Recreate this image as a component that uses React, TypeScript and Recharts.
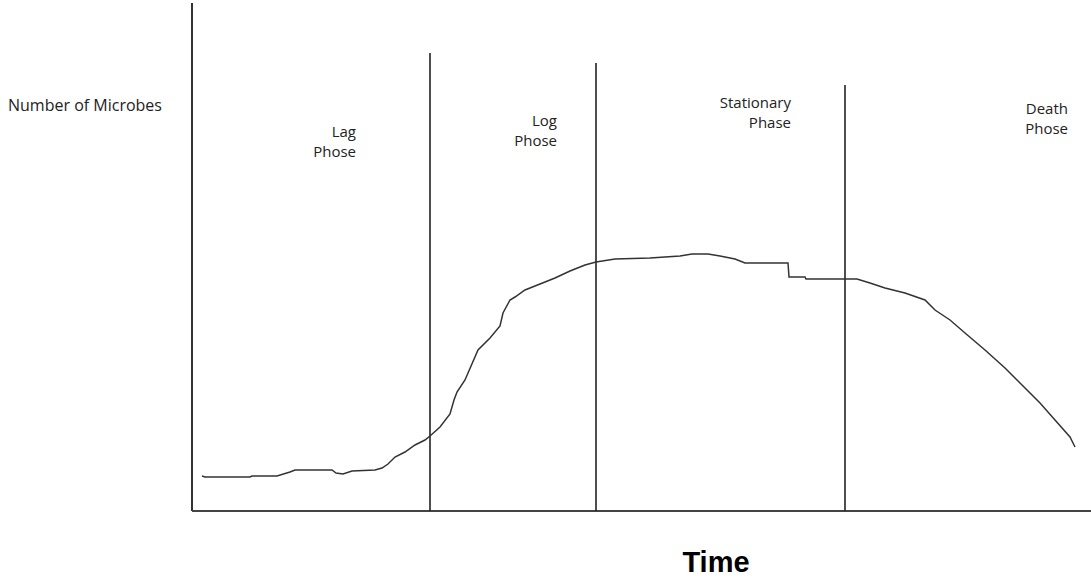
import { LineChart, Line, XAxis, YAxis, ReferenceLine } from 'recharts'

// time (arbitrary units) and number of microbes (arbitrary units)
const time = [
  10, 13, 58, 60, 85, 98, 103, 140, 144, 151, 160, 183, 190, 196, 203, 213, 223, 233, 238, 248,
  258, 262, 265, 273, 286, 298, 308, 311, 318, 323, 333, 348, 363, 378, 393, 404, 423, 458, 488,
  500, 516, 528, 543, 553, 596, 597, 613, 614, 665, 678, 693, 713, 733, 743, 758, 773, 793, 813,
  828, 848, 863, 878, 883,
]
const microbes = [
  35, 34, 34, 35, 35, 39, 41, 41, 38, 37, 40, 41, 43, 47, 54, 59, 66, 71, 75, 84,
  97, 111, 119, 131, 161, 173, 185, 198, 211, 214, 221, 227, 233, 240, 246, 249, 252, 253, 255,
  257, 257, 255, 252, 248, 248, 234, 234, 232, 232, 228, 223, 218, 211, 201, 191, 178, 161, 143,
  128, 108, 91, 74, 64,
]

// phase boundaries: where each divider stands and how tall it was drawn
const phaseEnds = [238, 404, 653]
const phaseTops = [458, 448, 426]

const data = time.map((t, i) => ({ t, n: microbes[i] }))

const labelStyle = {
  position: 'absolute' as const,
  fontFamily: '"Open Sans", sans-serif',
  fontSize: 15,
  lineHeight: '20px',
  color: '#222',
  textAlign: 'right' as const,
  whiteSpace: 'nowrap' as const,
}

export default function App() {
  return (
    <div style={{ position: 'absolute', left: 0, top: 0, width: 1091, height: 579, background: '#fff' }}>
      <LineChart width={1091} height={579} data={data} margin={{ top: 3, right: 0, bottom: 68, left: 192 }}>
        <XAxis type="number" dataKey="t" domain={[0, 899]} hide />
        <YAxis type="number" domain={[0, 508]} hide />
        <ReferenceLine x={0} stroke="#333" strokeWidth={2} ifOverflow="visible" />
        <ReferenceLine y={0} stroke="#444" strokeWidth={2} ifOverflow="visible" />
        {phaseEnds.map((x, i) => (
          <ReferenceLine
            key={x}
            segment={[{ x, y: 0 }, { x, y: phaseTops[i] }]}
            stroke="#222"
            strokeWidth={1.6}
            ifOverflow="visible"
          />
        ))}
        <Line
          type="linear"
          dataKey="n"
          stroke="#333"
          strokeWidth={1.5}
          dot={false}
          isAnimationActive={false}
        />
      </LineChart>

      <div style={{ ...labelStyle, left: 8, top: 95, fontSize: 16, textAlign: 'left' }}>Number of Microbes</div>
      <div style={{ ...labelStyle, right: 1091 - 356, top: 121 }}>Lag<br />Phose</div>
      <div style={{ ...labelStyle, right: 1091 - 557, top: 110 }}>Log<br />Phose</div>
      <div style={{ ...labelStyle, right: 1091 - 791, top: 92 }}>Stationary<br />Phase</div>
      <div style={{ ...labelStyle, right: 1091 - 1068, top: 98 }}>Death<br />Phose</div>
      <div
        style={{
          position: 'absolute',
          left: 0,
          width: 1432,
          top: 546,
          textAlign: 'center',
          fontFamily: '"Liberation Sans", Arial, sans-serif',
          fontWeight: 'bold',
          fontSize: 29,
          color: '#000',
        }}
      >
        Time
      </div>
    </div>
  )
}
